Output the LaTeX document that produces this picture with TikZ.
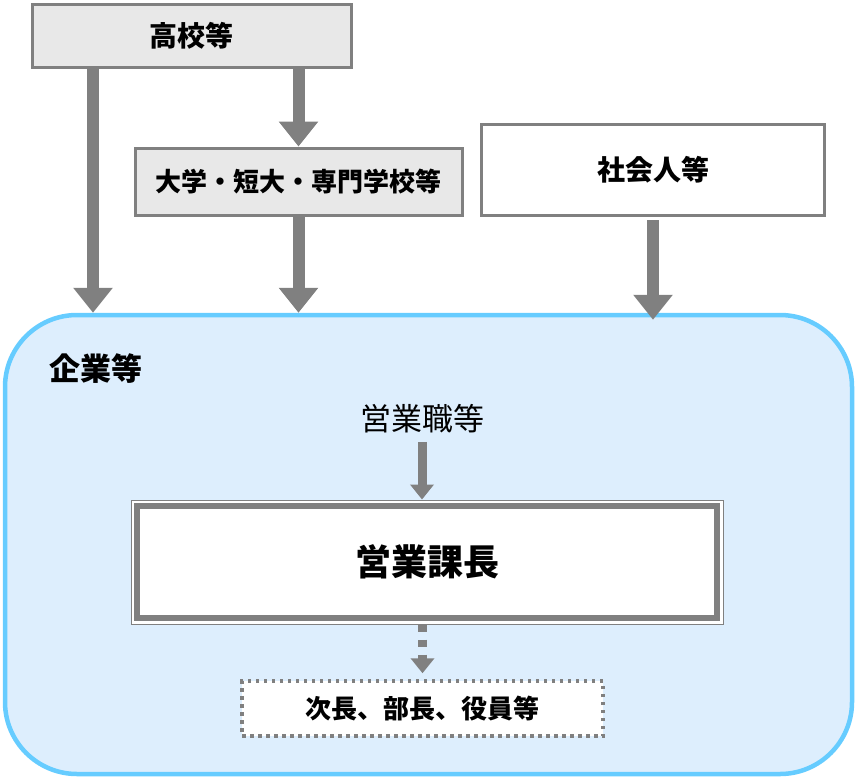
\documentclass[tikz,border=0pt]{standalone}
\usepackage{fontspec}
\setmainfont{Noto Sans CJK JP}
\usetikzlibrary{arrows.meta}
\usetikzlibrary{positioning}

\definecolor{boxgray}{HTML}{808080}
\definecolor{boxfill}{HTML}{E8E8E8}
\definecolor{firmfill}{HTML}{DDEEFD}
\definecolor{firmline}{HTML}{66CCFF}

\tikzset{
  graybox/.style={draw=boxgray, line width=3pt, fill=boxfill, inner sep=0pt},
  whitebox/.style={draw=boxgray, line width=3pt, fill=white, inner sep=0pt},
  dotbox/.style={draw=boxgray, line width=3.5pt, dash pattern=on 3.5pt off 4.5pt, fill=white, inner sep=0pt},
  firmbox/.style={draw=firmline, line width=4.5pt, fill=firmfill, rounded corners=72pt, inner sep=0pt},
  bigarrow/.style={draw=boxgray, line width=12pt, -{Triangle[width=38pt,length=25pt]}},
  smallarrow/.style={draw=boxgray, line width=9pt, -{Triangle[width=23pt,length=15pt]}},
  dotarrow/.style={smallarrow, dash pattern=on 7pt off 8pt},
  lbl/.style={font=\bfseries\fontsize{28pt}{32pt}\selectfont},
}

\begin{document}
\begin{tikzpicture}[x=1pt, y=-1pt]
            \useasboundingbox (0,0) rectangle (856,779);

            % Company frame
            \node[firmbox, minimum width=847pt, minimum height=459pt] (kigyou) at (428.5,544.5) {};
            \node[lbl, font=\bfseries\fontsize{31pt}{34pt}\selectfont] (kigyoulbl) at (96,369) {企業等};

            % Entry boxes
            \node[graybox, lbl, minimum width=319pt, minimum height=63pt] (koukou) at (191.5,35.5) {高校等};
            \node[graybox, lbl, font=\bfseries\fontsize{26pt}{30pt}\selectfont, minimum width=327pt, minimum height=67pt] (daigaku) at (298.5,181.5) {大学・短大・専門学校等};
            \node[whitebox, lbl, minimum width=343pt, minimum height=91pt] (shakai) at (653,170) {社会人等};

            % Career path
            \node[font=\fontsize{31pt}{34pt}\selectfont] (shokushu) at (422,419) {営業職等};
            \node[draw=boxgray, line width=1pt, fill=white, minimum width=592pt, minimum height=124pt] (kachouframe) at (427,562) {};
            \node[draw=boxgray, line width=6pt, fill=white, minimum width=580pt, minimum height=112pt,
                  font=\bfseries\fontsize{36pt}{40pt}\selectfont] (kachou) at (427,562) {営業課長};
            \node[dotbox, lbl, font=\bfseries\fontsize{26pt}{30pt}\selectfont, minimum width=361pt, minimum height=55pt] (jicho) at (422.5,708.5) {次長、部長、役員等};

            % Arrows
            \coordinate (lineA) at (93,0);
            \draw[bigarrow] (koukou.south -| lineA) -- (kigyou.north -| lineA);
            \draw[bigarrow] (koukou.south -| daigaku) -- (daigaku.north);
            \draw[bigarrow] (daigaku.south) -- (kigyou.north -| daigaku);
            \draw[bigarrow, shorten <=3pt, shorten >=-7pt] (shakai.south) -- (kigyou.north -| shakai);
            \draw[smallarrow, shorten <=5pt] (shokushu.south) -- (kachouframe.north -| shokushu);
            \draw[dotarrow, shorten >=6pt] (kachouframe.south -| jicho) -- (jicho.north);
        \end{tikzpicture}
\end{document}
